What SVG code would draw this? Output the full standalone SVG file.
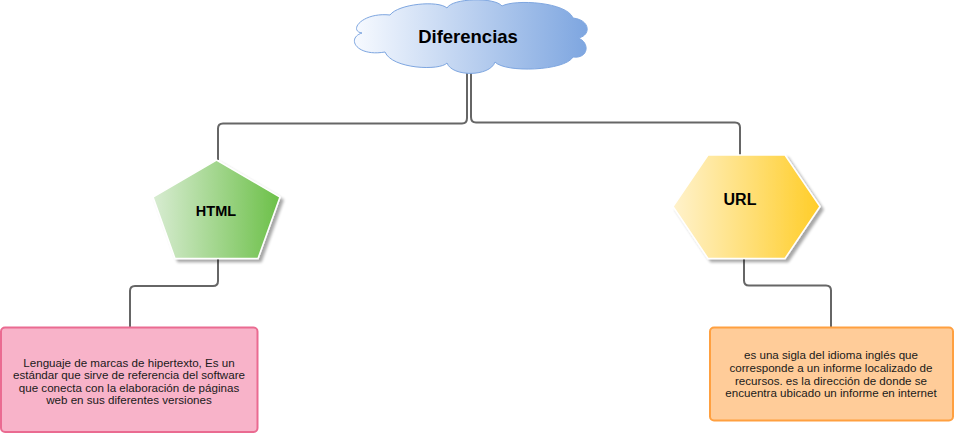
<svg xmlns="http://www.w3.org/2000/svg" width="954" height="434" viewBox="0 0 954 434">
<style>
.edge{fill:none;stroke:#666666;stroke-width:2}
.lbl{font-family:"Liberation Sans",Arial,sans-serif;fill:#000000;text-anchor:middle}
.bold{font-weight:bold}
.body{font-size:11.6px;fill:#1a1a1a}
</style>
<defs>
<linearGradient id="gCloud" x1="0" y1="0" x2="1" y2="0">
<stop offset="0" stop-color="#f7faff"/>
<stop offset="1" stop-color="#7ea6e0"/>
</linearGradient>
<linearGradient id="gGreen" x1="0" y1="0" x2="1" y2="0">
<stop offset="0" stop-color="#d8ecd2"/>
<stop offset="1" stop-color="#6cc048"/>
</linearGradient>
<linearGradient id="gYellow" x1="0" y1="0" x2="1" y2="0">
<stop offset="0" stop-color="#fff2cc"/>
<stop offset="1" stop-color="#ffcd28"/>
</linearGradient>
<filter id="shadow" x="-20%" y="-20%" width="150%" height="150%">
<feGaussianBlur in="SourceAlpha" stdDeviation="1.7"/>
<feOffset dx="3" dy="3" result="b"/>
<feComponentTransfer><feFuncA type="linear" slope="0.35"/></feComponentTransfer>
<feMerge><feMergeNode/><feMergeNode in="SourceGraphic"/></feMerge>
</filter>
</defs>
<g id="connectors">
<path class="edge" d="M467,72 V118 Q467,123.5 462,123.5 H223 Q218,123.5 218,128.5 V160"/>
<path class="edge" d="M471,72 V117 Q471,122.5 476,122.5 H735 Q740,122.5 740,127.5 V155"/>
<path class="edge" d="M218,259 V281 Q218,286 213,286 H135 Q130,286 130,291 V328"/>
<path class="edge" d="M744,259 V280.5 Q744,285.5 749,285.5 H826 Q831,285.5 831,290.5 V328"/>
</g>
<g id="cloud">
<path d="M362,33 C348,31 362,12 390,15 C398,4 438,0 447,8 C452,-2 495,-3 502,6 C515,-1 567,2 573,18 C591,20 591,36 578,38 C590,42 589,59 573,57 C565,71 505,73 495,62 C490,77 452,77 447,63 C440,71 392,69 385,52 C356,57 346,38 362,33 Z" fill="url(#gCloud)" stroke="#7ea6e0" stroke-width="1"/>
<text class="lbl bold" x="468" y="43" font-size="18.5">Diferencias</text>
</g>
<g id="html">
<polygon points="216.5,160 280,197 258,258.5 175,258.5 153,197" fill="url(#gGreen)" stroke="#ffffff" stroke-width="1.5" filter="url(#shadow)"/>
<text class="lbl bold" x="216" y="215.5" font-size="14.5">HTML</text>
</g>
<g id="url">
<polygon points="708,155 785,155 820,206.5 785,258.5 708,258.5 673,206.5" fill="url(#gYellow)" stroke="#ffffff" stroke-width="1.5" filter="url(#shadow)"/>
<text class="lbl bold" x="740" y="205" font-size="16">URL</text>
</g>
<g id="html-desc">
<rect x="1" y="327.5" width="256.5" height="104.5" rx="4" fill="#f8b3c9" stroke="#ea6b91" stroke-width="2"/>
<text class="lbl body" x="129" y="367">Lenguaje de marcas de hipertexto, Es un</text>
<text class="lbl body" x="129" y="379.3">estándar que sirve de referencia del software</text>
<text class="lbl body" x="129" y="391.6">que conecta con la elaboración de páginas</text>
<text class="lbl body" x="129" y="403.9">web en sus diferentes versiones</text>
</g>
<g id="url-desc">
<rect x="710" y="327.5" width="243" height="93" rx="4" fill="#ffcc99" stroke="#ffa040" stroke-width="2"/>
<text class="lbl body" x="831" y="359.3">es una sigla del idioma inglés que</text>
<text class="lbl body" x="831" y="371.9">corresponde a un informe localizado de</text>
<text class="lbl body" x="831" y="384.5">recursos. es la dirección de donde se</text>
<text class="lbl body" x="831" y="397.1">encuentra ubicado un informe en internet</text>
</g>
</svg>
